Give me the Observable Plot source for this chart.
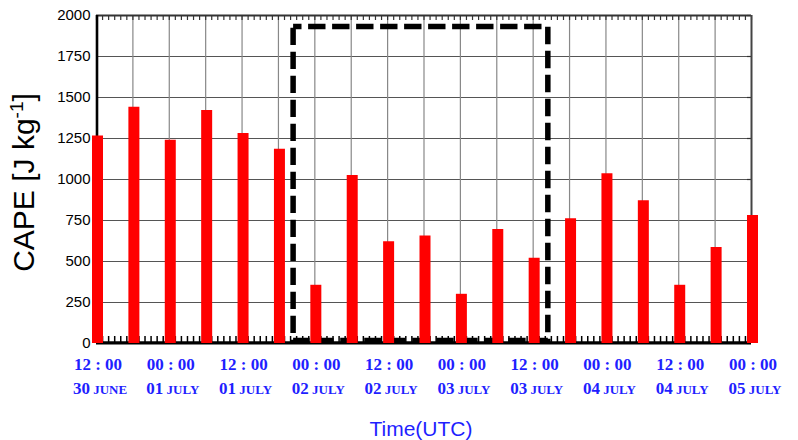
<!DOCTYPE html>
<html><head><meta charset="utf-8">
<script src="https://cdn.jsdelivr.net/npm/d3@7"></script>
<script src="https://cdn.jsdelivr.net/npm/@observablehq/plot@0.6"></script>
<style>html,body{margin:0;padding:0;background:#fff;}</style>
</head><body><div id="chart"></div>
<script>
// ---- data ----
const times = ["2013-06-30T12:00Z","2013-06-30T18:00Z","2013-07-01T00:00Z","2013-07-01T06:00Z","2013-07-01T12:00Z","2013-07-01T18:00Z","2013-07-02T00:00Z","2013-07-02T06:00Z","2013-07-02T12:00Z","2013-07-02T18:00Z","2013-07-03T00:00Z","2013-07-03T06:00Z","2013-07-03T12:00Z","2013-07-03T18:00Z","2013-07-04T00:00Z","2013-07-04T06:00Z","2013-07-04T12:00Z","2013-07-04T18:00Z","2013-07-05T00:00Z"];
const cape = [1265,1440,1240,1420,1280,1185,355,1025,620,655,300,695,520,760,1035,870,355,585,780];
const tickTimes = ["2013-06-30T12:00Z","2013-07-01T00:00Z","2013-07-01T12:00Z","2013-07-02T00:00Z","2013-07-02T12:00Z","2013-07-03T00:00Z","2013-07-03T12:00Z","2013-07-04T00:00Z","2013-07-04T12:00Z","2013-07-05T00:00Z"];
const tickHours = ["12 : 00","00 : 00","12 : 00","00 : 00","12 : 00","00 : 00","12 : 00","00 : 00","12 : 00","00 : 00"];
const tickDays = ["30","01","01","02","02","03","03","04","04","05"];
const tickMonths = ["JUNE","JULY","JULY","JULY","JULY","JULY","JULY","JULY","JULY","JULY"];
const yTicks = [0,250,500,750,1000,1250,1500,1750,2000];
const boxStart = "2013-07-01T20:30Z", boxEnd = "2013-07-03T14:30Z";
const boxLow = 15, boxHigh = 1930;
const yTitle = "CAPE [J kg-1]";
const xTitle = "Time(UTC)";

// ---- build ----
const parse = s => new Date(s);
const data = times.map((t, i) => ({t: parse(t), v: cape[i]}));
const t0 = parse(times[0]), t1 = parse(times[times.length - 1]);
const hours = d3.utcHour.range(t0, new Date(+t1 + 1));
const W = 798, H = 440, mL = 96, mR = 47, mT = 15, mB = 97;
const fw = W - mL - mR, fh = H - mT - mB;
const blue = "#1f1fff";

const chart = Plot.plot({
  width: W, height: H,
  marginLeft: mL, marginRight: mR, marginTop: mT, marginBottom: mB,
  style: {fontFamily: "'Liberation Sans', Arial, sans-serif", fontSize: "15px", color: "black", background: "white"},
  x: {type: "utc", domain: [t0, t1], axis: null},
  y: {domain: [0, 2000]},
  marks: [
    Plot.ruleY(yTicks.slice(1, -1), {stroke: "#555", strokeWidth: 1}),
    Plot.ruleX(times.slice(1, -1), {x: d => parse(d), stroke: "#888", strokeWidth: 1.2}),
    Plot.ruleX(hours, {insetBottom: fh - 5, stroke: "#333", strokeWidth: 1.2}),
    Plot.ruleX(hours, {insetTop: fh - 7, stroke: "#000", strokeWidth: 1.5}),
    Plot.ruleY(yTicks, {insetLeft: fw - 4, stroke: "#333", strokeWidth: 1.2}),
    Plot.rect([{a: parse(boxStart), b: parse(boxEnd), lo: boxLow, hi: boxHigh}], {
      x1: "a", x2: "b", y1: "lo", y2: "hi", fill: "none", stroke: "black",
      strokeWidth: 5.5, strokeDasharray: "17.4,6.6", strokeDashoffset: 9
    }),
    Plot.ruleY([2000], {stroke: "#333", strokeWidth: 2}),
    Plot.ruleX([t1], {stroke: "#444", strokeWidth: 2}),
    Plot.ruleX([t0], {stroke: "black", strokeWidth: 2.6, dx: 0.5}),
    Plot.ruleY([0], {stroke: "black", strokeWidth: 3.3, dy: -0.7}),
    Plot.ruleX(data, {x: "t", y1: 0, y2: "v", stroke: "#ff0000", strokeWidth: 11, dx: 1}),
    Plot.axisY(yTicks, {tickSize: 0, tickPadding: 6, label: null, fontSize: 15, tickFormat: d => String(d)}),
    Plot.text(tickTimes, {x: d => parse(d), text: (d, i) => tickHours[i], frameAnchor: "bottom", lineAnchor: "bottom",
      dy: 26, dx: 1.5, fill: blue, fontFamily: "'Liberation Serif', 'Times New Roman', serif", fontWeight: "bold", fontSize: 17}),
    Plot.text(tickTimes, {x: d => parse(d), text: (d, i) => tickDays[i] + " " + tickMonths[i], frameAnchor: "bottom", lineAnchor: "bottom",
      dy: 50, dx: 3.5, fill: blue, fontFamily: "'Liberation Serif', 'Times New Roman', serif", fontWeight: "bold", fontSize: 17,
      ariaLabel: () => "day-label"}),
    Plot.text([xTitle], {frameAnchor: "bottom", lineAnchor: "bottom", dy: 92, dx: -3, fill: blue, fontSize: 21,
      fontFamily: "'Liberation Sans', Arial, sans-serif"}),
    Plot.text([yTitle], {frameAnchor: "left", rotate: -90, textAnchor: "middle", lineAnchor: "bottom", dx: -63, dy: 3,
      fontSize: 30, fill: "black", fontFamily: "'Liberation Sans', Arial, sans-serif", ariaLabel: () => "y-title"})
  ]
});

// day labels: smaller month (small caps style)
d3.select(chart).selectAll('text[aria-label="day-label"]').each(function(_, i) {
  const el = d3.select(this);
  el.text(null);
  el.append("tspan").text(tickDays[i]);
  el.append("tspan").attr("font-size", 13).text(" " + tickMonths[i]);
});
// y title superscript
d3.select(chart).selectAll('text[aria-label="y-title"]').each(function() {
  const el = d3.select(this);
  el.text(null);
  el.append("tspan").text("CAPE [J kg");
  el.append("tspan").attr("font-size", 19).attr("dy", -11).text("-1");
  el.append("tspan").attr("dy", 11).text("]");
});
document.getElementById("chart").appendChild(chart);
</script>
</body></html>
